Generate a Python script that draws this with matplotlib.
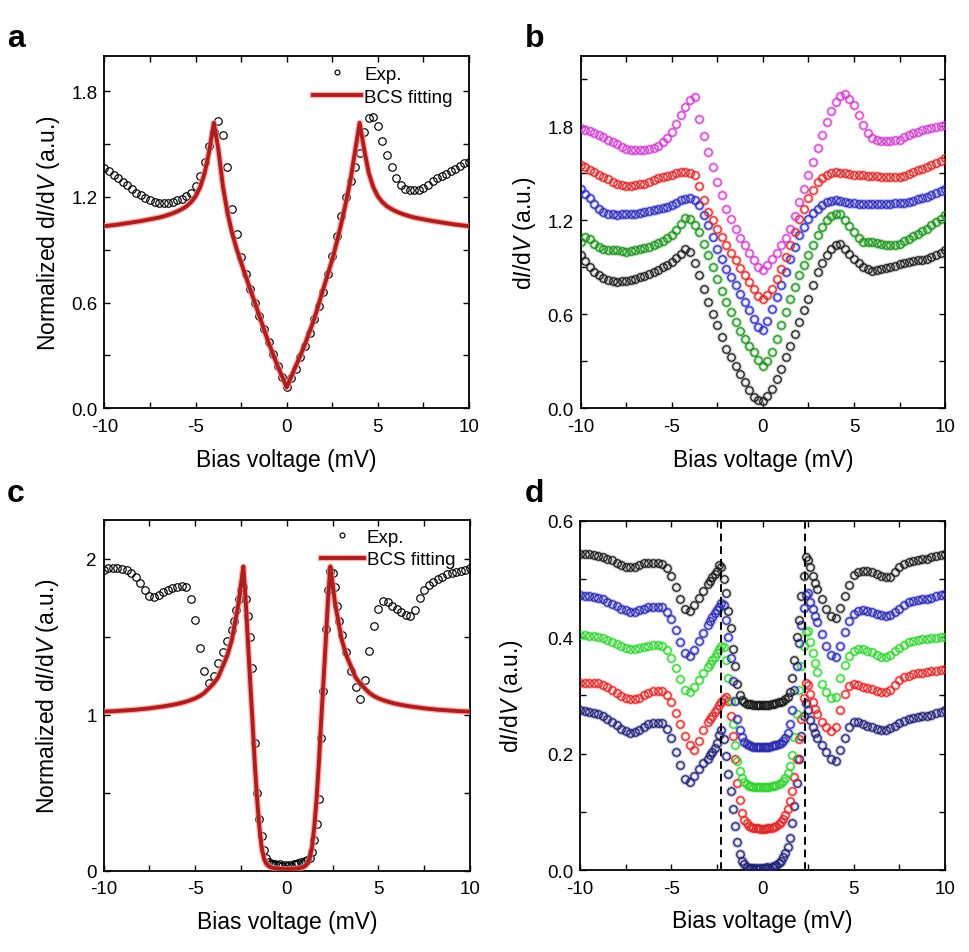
import numpy as np
import matplotlib
matplotlib.use("Agg")
import matplotlib.pyplot as plt
from matplotlib.ticker import MultipleLocator, FormatStrFormatter
import matplotlib.patheffects as pe

plt.rcParams['font.family'] = ['Liberation Sans', 'DejaVu Sans']
plt.rcParams['mathtext.fontset'] = 'custom'
plt.rcParams['mathtext.rm'] = 'Liberation Sans'
plt.rcParams['mathtext.it'] = 'Liberation Sans:italic'
plt.rcParams['axes.unicode_minus'] = False

# ---------------- bias grids (mV) ----------------
bias_ab = np.round(np.arange(-10, 10.001, 0.25), 4)          # 81 points
bias_cd = np.round(np.concatenate([np.arange(-10, -3, 0.25),
                                   np.arange(-3, 3.001, 0.125),
                                   np.arange(3.25, 10.001, 0.25)]), 4)  # 105 points

# ---------------- panel a ----------------
a_exp = [1.364, 1.345, 1.325, 1.305, 1.285, 1.265, 1.245, 1.225, 1.21, 1.195,
         1.18, 1.17, 1.165, 1.165, 1.165, 1.17, 1.18, 1.19, 1.205, 1.225,
         1.26, 1.32, 1.40, 1.49, 1.57, 1.63, 1.55, 1.37, 1.13, 0.99,
         0.86, 0.76, 0.675, 0.60, 0.525, 0.45, 0.375, 0.31, 0.24, 0.18,
         0.12,
         0.17, 0.225, 0.29, 0.355, 0.43, 0.505, 0.58, 0.66, 0.76, 0.865,
         0.98, 1.09, 1.20, 1.29, 1.37, 1.45, 1.57, 1.65, 1.655, 1.60,
         1.52, 1.44, 1.37, 1.31, 1.27, 1.245, 1.24, 1.24, 1.24, 1.25,
         1.27, 1.29, 1.305, 1.32, 1.33, 1.345, 1.36, 1.375, 1.39, 1.40]
a_fit = [1.034, 1.037, 1.04, 1.043, 1.047, 1.051, 1.055, 1.059, 1.063, 1.068,
         1.073, 1.078, 1.083, 1.09, 1.098, 1.107, 1.118, 1.131, 1.147, 1.17,
         1.203, 1.255, 1.336, 1.46, 1.62, 1.47, 1.26, 1.11, 0.996, 0.905,
         0.826, 0.75, 0.675, 0.60, 0.524, 0.449, 0.374, 0.307, 0.241, 0.18,
         0.119,
         0.18, 0.241, 0.30, 0.364, 0.434, 0.505, 0.59, 0.675, 0.76, 0.845,
         0.945, 1.053, 1.17, 1.298, 1.46, 1.62, 1.47, 1.336, 1.255, 1.203,
         1.17, 1.147, 1.131, 1.118, 1.107, 1.098, 1.09, 1.083, 1.078, 1.073,
         1.068, 1.063, 1.059, 1.055, 1.051, 1.047, 1.043, 1.04, 1.037, 1.034]

# ---------------- panel b ----------------
b_magenta = [1.79, 1.78, 1.768, 1.756, 1.745, 1.73, 1.715, 1.70, 1.685, 1.668,
             1.655, 1.65, 1.648, 1.648, 1.65, 1.655, 1.664, 1.678, 1.698, 1.728,
             1.766, 1.815, 1.873, 1.925, 1.969, 1.99, 1.85, 1.74, 1.638, 1.54,
             1.446, 1.36, 1.275, 1.21, 1.148, 1.09, 1.04, 0.99, 0.945, 0.905,
             0.885,
             0.915, 0.955, 0.995, 1.04, 1.09, 1.148, 1.23, 1.318, 1.40, 1.489,
             1.575, 1.66, 1.745, 1.83, 1.90, 1.958, 1.995, 2.005, 1.975, 1.937,
             1.87, 1.808, 1.76, 1.724, 1.712, 1.709, 1.709, 1.71, 1.712, 1.715,
             1.73, 1.745, 1.756, 1.766, 1.775, 1.783, 1.79, 1.798, 1.804, 1.81]
b_red = [1.553, 1.538, 1.523, 1.508, 1.493, 1.478, 1.462, 1.448, 1.435, 1.425,
         1.42, 1.42, 1.425, 1.43, 1.435, 1.446, 1.457, 1.468, 1.478, 1.486,
         1.493, 1.50, 1.506, 1.507, 1.504, 1.49, 1.42, 1.33, 1.254, 1.20,
         1.148, 1.094, 1.04, 0.99, 0.945, 0.897, 0.849, 0.806, 0.764, 0.72,
         0.695,
         0.725, 0.764, 0.825, 0.89, 0.965, 1.04, 1.125, 1.21, 1.275, 1.34,
         1.395, 1.446, 1.47, 1.489, 1.50, 1.506, 1.505, 1.50, 1.495, 1.492,
         1.49, 1.488, 1.486, 1.484, 1.482, 1.48, 1.478, 1.476, 1.476, 1.478,
         1.485, 1.495, 1.51, 1.52, 1.53, 1.542, 1.555, 1.568, 1.582, 1.596]
b_blue = [1.40, 1.37, 1.34, 1.305, 1.275, 1.255, 1.243, 1.238, 1.237, 1.238,
          1.24, 1.242, 1.243, 1.248, 1.254, 1.26, 1.265, 1.272, 1.28, 1.288,
          1.297, 1.313, 1.329, 1.338, 1.34, 1.33, 1.297, 1.235, 1.169, 1.095,
          1.02, 0.955, 0.89, 0.837, 0.785, 0.73, 0.678, 0.625, 0.571, 0.52,
          0.497,
          0.56, 0.635, 0.71, 0.785, 0.87, 0.955, 1.03, 1.105, 1.16, 1.21,
          1.245, 1.275, 1.298, 1.318, 1.326, 1.329, 1.325, 1.318, 1.312, 1.308,
          1.307, 1.306, 1.306, 1.306, 1.306, 1.306, 1.306, 1.307, 1.308, 1.31,
          1.314, 1.318, 1.326, 1.334, 1.342, 1.35, 1.362, 1.375, 1.389, 1.403]
b_green = [1.062, 1.094, 1.08, 1.05, 1.03, 1.02, 1.013, 1.01, 1.009, 1.004,
           1.0, 1.003, 1.009, 1.017, 1.025, 1.032, 1.04, 1.055, 1.07, 1.087,
           1.105, 1.14, 1.18, 1.218, 1.21, 1.17, 1.126, 1.05, 0.977, 0.90,
           0.828, 0.75, 0.678, 0.612, 0.55, 0.495, 0.444, 0.40, 0.358, 0.31,
           0.273,
           0.30, 0.358, 0.44, 0.529, 0.615, 0.70, 0.775, 0.849, 0.915, 0.977,
           1.04, 1.105, 1.155, 1.20, 1.228, 1.243, 1.24, 1.205, 1.165, 1.126,
           1.09, 1.062, 1.06, 1.062, 1.057, 1.05, 1.045, 1.04, 1.044, 1.05,
           1.066, 1.083, 1.1, 1.115, 1.132, 1.148, 1.168, 1.19, 1.212, 1.233]
b_black = [0.977, 0.94, 0.902, 0.872, 0.849, 0.83, 0.817, 0.81, 0.806, 0.81,
           0.816, 0.822, 0.828, 0.838, 0.848, 0.86, 0.87, 0.885, 0.90, 0.917,
           0.934, 0.96, 0.988, 1.015, 1.0, 0.93, 0.849, 0.76, 0.678, 0.605,
           0.529, 0.455, 0.38, 0.325, 0.273, 0.22, 0.166, 0.118, 0.075, 0.05,
           0.045,
           0.08, 0.124, 0.19, 0.252, 0.325, 0.40, 0.475, 0.55, 0.625, 0.70,
           0.79, 0.87, 0.93, 0.977, 1.015, 1.04, 1.05, 1.02, 0.985, 0.955,
           0.925, 0.902, 0.89, 0.88, 0.883, 0.89, 0.896, 0.902, 0.912, 0.923,
           0.93, 0.934, 0.939, 0.944, 0.95, 0.955, 0.966, 0.978, 0.993, 1.009]

# ---------------- panel c ----------------
c_exp = [1.93, 1.94, 1.94, 1.94, 1.935, 1.925, 1.91, 1.88, 1.845, 1.80,
         1.76, 1.755, 1.77, 1.785, 1.80, 1.81, 1.82, 1.825, 1.82, 1.74,
         1.61, 1.43, 1.28, 1.205, 1.25, 1.33, 1.40, 1.47,
         1.545, 1.60, 1.67, 1.74, 1.80, 1.82, 1.74, 1.63, 1.50, 1.30,
         0.82, 0.50, 0.33, 0.22, 0.13, 0.08, 0.055, 0.045, 0.04, 0.045,
         0.035, 0.04, 0.03, 0.035, 0.03, 0.035, 0.03, 0.04, 0.045, 0.05,
         0.055, 0.05, 0.06, 0.07, 0.08, 0.12, 0.20, 0.30, 0.46, 0.85,
         1.15, 1.55, 1.80, 1.92, 1.91, 1.82, 1.70, 1.60, 1.51,
         1.40, 1.28, 1.18, 1.10, 1.22, 1.41, 1.57, 1.68, 1.73, 1.725,
         1.70, 1.68, 1.66, 1.64, 1.63, 1.67, 1.75, 1.80, 1.83, 1.85,
         1.87, 1.885, 1.90, 1.91, 1.915, 1.92, 1.93, 1.94]
c_fit = [1.02, 1.021, 1.022, 1.024, 1.026, 1.028, 1.03, 1.032, 1.035, 1.038,
         1.041, 1.045, 1.049, 1.053, 1.058, 1.063, 1.069, 1.076, 1.084, 1.094,
         1.105, 1.12, 1.14, 1.17, 1.20, 1.24, 1.31, 1.38,
         1.48, 1.56, 1.64, 1.72, 1.84, 1.95, 1.74, 1.47, 1.21, 0.96,
         0.69, 0.46, 0.28, 0.15, 0.08, 0.045, 0.03, 0.022, 0.018, 0.015,
         0.013, 0.012, 0.011, 0.01, 0.01, 0.01, 0.011, 0.012, 0.013, 0.015,
         0.018, 0.022, 0.03, 0.045, 0.08, 0.15, 0.28, 0.46, 0.69, 0.96,
         1.21, 1.47, 1.74, 1.95, 1.84, 1.72, 1.64, 1.56, 1.48,
         1.38, 1.31, 1.24, 1.20, 1.17, 1.14, 1.12, 1.105, 1.094, 1.084,
         1.076, 1.069, 1.063, 1.058, 1.053, 1.049, 1.045, 1.041, 1.038, 1.035,
         1.032, 1.03, 1.028, 1.026, 1.024, 1.022, 1.021, 1.02]

# ---------------- panel d ----------------
d_black = [0.543, 0.543, 0.542, 0.541, 0.540, 0.538, 0.535, 0.532, 0.528, 0.524,
           0.521, 0.52, 0.521, 0.524, 0.527, 0.528, 0.528, 0.527, 0.525, 0.518,
           0.505, 0.486, 0.466, 0.448, 0.445, 0.455, 0.468, 0.48,
           0.491, 0.497, 0.503, 0.509, 0.514, 0.524, 0.52, 0.50, 0.475, 0.445,
           0.415, 0.38, 0.35, 0.32, 0.30, 0.292, 0.288, 0.286, 0.285, 0.285,
           0.284, 0.284, 0.283, 0.283, 0.283, 0.283, 0.284, 0.284, 0.285, 0.286,
           0.287, 0.288, 0.289, 0.291, 0.294, 0.297, 0.305, 0.33, 0.36, 0.40,
           0.43, 0.47, 0.505, 0.537, 0.532, 0.52, 0.505, 0.493, 0.483,
           0.465, 0.448, 0.436, 0.433, 0.45, 0.47, 0.49, 0.506, 0.512, 0.514,
           0.513, 0.512, 0.509, 0.505, 0.503, 0.504, 0.512, 0.52, 0.526, 0.529,
           0.531, 0.533, 0.534, 0.535, 0.537, 0.539, 0.541, 0.543]
d_blue = [0.472, 0.471, 0.47, 0.469, 0.468, 0.465, 0.461, 0.457, 0.453, 0.449,
          0.446, 0.444, 0.444, 0.446, 0.449, 0.451, 0.452, 0.452, 0.451, 0.444,
          0.431, 0.412, 0.391, 0.372, 0.367, 0.378, 0.393, 0.407,
          0.42, 0.427, 0.434, 0.441, 0.447, 0.452, 0.458, 0.455, 0.43, 0.40,
          0.365, 0.325, 0.29, 0.26, 0.24, 0.228, 0.22, 0.216, 0.214, 0.213,
          0.212, 0.212, 0.211, 0.211, 0.211, 0.211, 0.212, 0.212, 0.213, 0.214,
          0.215, 0.217, 0.219, 0.222, 0.227, 0.235, 0.25, 0.275, 0.31, 0.35,
          0.39, 0.42, 0.45, 0.472, 0.475, 0.46, 0.448, 0.437, 0.426,
          0.405, 0.385, 0.37, 0.366, 0.385, 0.408, 0.427, 0.44, 0.445, 0.446,
          0.445, 0.443, 0.44, 0.438, 0.437, 0.438, 0.443, 0.449, 0.455, 0.46,
          0.462, 0.464, 0.465, 0.466, 0.468, 0.47, 0.472, 0.474]
d_green = [0.403, 0.403, 0.402, 0.402, 0.401, 0.398, 0.395, 0.391, 0.388, 0.384,
           0.381, 0.379, 0.379, 0.381, 0.383, 0.385, 0.386, 0.386, 0.385, 0.378,
           0.365, 0.347, 0.328, 0.309, 0.305, 0.315, 0.327, 0.338,
           0.348, 0.354, 0.36, 0.366, 0.373, 0.379, 0.385, 0.383, 0.36, 0.33,
           0.29, 0.25, 0.215, 0.188, 0.17, 0.158, 0.151, 0.147, 0.145, 0.144,
           0.143, 0.143, 0.142, 0.142, 0.142, 0.142, 0.143, 0.143, 0.144, 0.145,
           0.146, 0.148, 0.15, 0.153, 0.158, 0.166, 0.178, 0.198, 0.228, 0.268,
           0.31, 0.35, 0.385, 0.408, 0.41, 0.392, 0.372, 0.355, 0.34,
           0.32, 0.305, 0.295, 0.297, 0.33, 0.352, 0.368, 0.377, 0.38, 0.38,
           0.377, 0.374, 0.37, 0.366, 0.366, 0.37, 0.376, 0.382, 0.387, 0.391,
           0.393, 0.395, 0.396, 0.397, 0.398, 0.399, 0.40, 0.401]
d_red = [0.322, 0.322, 0.322, 0.321, 0.321, 0.318, 0.314, 0.309, 0.304, 0.299,
         0.295, 0.293, 0.293, 0.296, 0.3, 0.304, 0.307, 0.308, 0.307, 0.3,
         0.288, 0.27, 0.25, 0.23, 0.215, 0.207, 0.222, 0.24,
         0.254, 0.26, 0.265, 0.271, 0.277, 0.283, 0.289, 0.294, 0.297, 0.29,
         0.265, 0.23, 0.19, 0.15, 0.12, 0.098, 0.086, 0.08, 0.076, 0.074,
         0.073, 0.072, 0.072, 0.071, 0.071, 0.071, 0.072, 0.072, 0.073, 0.074,
         0.076, 0.079, 0.083, 0.088, 0.095, 0.105, 0.118, 0.135, 0.16, 0.19,
         0.225, 0.26, 0.295, 0.322, 0.318, 0.302, 0.288, 0.277, 0.268,
         0.255, 0.245, 0.239, 0.245, 0.275, 0.302, 0.316, 0.32, 0.318, 0.315,
         0.313, 0.311, 0.308, 0.306, 0.306, 0.31, 0.318, 0.326, 0.331, 0.334,
         0.336, 0.338, 0.339, 0.34, 0.341, 0.342, 0.344, 0.346]
d_navy = [0.274, 0.273, 0.271, 0.27, 0.268, 0.264, 0.259, 0.254, 0.249, 0.243,
          0.239, 0.236, 0.237, 0.241, 0.246, 0.25, 0.252, 0.253, 0.252, 0.243,
          0.226, 0.203, 0.18, 0.157, 0.152, 0.162, 0.174, 0.183,
          0.191, 0.197, 0.203, 0.21, 0.219, 0.232, 0.24, 0.225, 0.195, 0.165,
          0.135, 0.105, 0.075, 0.048, 0.028, 0.016, 0.01, 0.006, 0.004, 0.003,
          0.004, 0.003, 0.002, 0.004, 0.003, 0.004, 0.005, 0.004, 0.006, 0.007,
          0.009, 0.012, 0.016, 0.022, 0.03, 0.04, 0.055, 0.08, 0.11, 0.15,
          0.19, 0.23, 0.265, 0.287, 0.275, 0.258, 0.245, 0.235, 0.226,
          0.214, 0.203, 0.19, 0.188, 0.207, 0.226, 0.245, 0.255, 0.254, 0.251,
          0.248, 0.245, 0.242, 0.24, 0.241, 0.244, 0.248, 0.252, 0.256, 0.259,
          0.261, 0.263, 0.264, 0.265, 0.267, 0.269, 0.271, 0.274]
d_gap_lines = [-2.3, 2.35]

# ---------------- styling ----------------
TICK_FS = 13.5
LABEL_FS = 16.5
MS = 5.4
MEW = 0.85
FIT_COLOR = '#ad1f1f'
FIT_GLOW = '#ff8c8c'

fig = plt.figure(figsize=(9.69, 9.53), dpi=100)
ax_a = fig.add_axes([0.1078, 0.5705, 0.3762, 0.3697])
ax_b = fig.add_axes([0.5993, 0.5705, 0.3760, 0.3697])
ax_c = fig.add_axes([0.1070, 0.0853, 0.3780, 0.3683])
ax_d = fig.add_axes([0.5986, 0.0860, 0.3767, 0.3666])


def style_axis(ax, ymax, ymaj, ymin, yfmt):
    ax.set_xlim(-10, 10)
    ax.set_ylim(0, ymax)
    ax.xaxis.set_major_locator(MultipleLocator(5))
    ax.xaxis.set_minor_locator(MultipleLocator(2.5))
    ax.yaxis.set_major_locator(MultipleLocator(ymaj))
    ax.yaxis.set_minor_locator(MultipleLocator(ymin))
    ax.yaxis.set_major_formatter(FormatStrFormatter(yfmt))
    ax.tick_params(which='both', direction='in', top=True, right=True,
                   width=1.0, labelsize=TICK_FS)
    ax.tick_params(which='major', length=4.5)
    ax.tick_params(which='minor', length=4.0)
    ax.tick_params(axis='x', pad=7)
    ax.tick_params(axis='y', pad=5)
    for s in ax.spines.values():
        s.set_linewidth(1.3)
    ax.set_xlabel('Bias voltage (mV)', fontsize=LABEL_FS, labelpad=9)


def glow_markers(ax, x, y, col, glow_col):
    ax.plot(x, y, 'o', ms=MS, mfc='none', mec=glow_col, mew=2.6, alpha=0.45, zorder=2)
    ax.plot(x, y, 'o', ms=MS, mfc='none', mec=col, mew=MEW, zorder=3)


fit_effects = [pe.Stroke(linewidth=4.6, foreground=FIT_GLOW, alpha=0.7), pe.Normal()]
leg_kw = dict(loc='upper right', frameon=False, fontsize=13.5, numpoints=1,
              handletextpad=0.15, borderpad=0, borderaxespad=0,
              labelspacing=0.3, markerscale=0.65)

# ---- panel a ----
ax_a.plot(bias_ab, a_exp, 'o', ms=MS, mfc='none', mec='black', mew=MEW, label='Exp.', zorder=2)
ax_a.plot(bias_ab, a_fit, '-', color=FIT_COLOR, lw=2.8, label='BCS fitting',
          path_effects=fit_effects, zorder=3)
style_axis(ax_a, 2.0, 0.6, 0.3, '%.1f')
ax_a.set_ylabel(r'Normalized d$\it{I}$/d$\it{V}$ (a.u.)', fontsize=LABEL_FS, labelpad=7)
ax_a.legend(bbox_to_anchor=(0.955, 0.972), handlelength=2.55, **leg_kw)

# ---- panel b ----
b_series = [(b_black, '#151515', '#9a9a9a'),
            (b_green, '#1f8a1f', '#70cc70'),
            (b_blue, '#2a2ab0', '#8080f0'),
            (b_red, '#d02828', '#ff8a8a'),
            (b_magenta, '#c83cc8', '#f59af5')]
for vals, col, gl in b_series:
    glow_markers(ax_b, bias_ab, vals, col, gl)
style_axis(ax_b, 2.25, 0.6, 0.3, '%.1f')
ax_b.set_ylabel(r'd$\it{I}$/d$\it{V}$ (a.u.)', fontsize=LABEL_FS, labelpad=7)

# ---- panel c ----
ax_c.plot(bias_cd, c_exp, 'o', ms=MS, mfc='none', mec='black', mew=MEW, label='Exp.', zorder=2)
ax_c.plot(bias_cd, c_fit, '-', color=FIT_COLOR, lw=2.8, label='BCS fitting',
          path_effects=fit_effects, zorder=3)
style_axis(ax_c, 2.25, 1, 0.5, '%d')
ax_c.set_ylabel(r'Normalized d$\it{I}$/d$\it{V}$ (a.u.)', fontsize=LABEL_FS, labelpad=18)
ax_c.legend(bbox_to_anchor=(0.96, 0.975), handlelength=2.3, **leg_kw)

# ---- panel d ----
d_series = [(d_navy, '#1c1c6e', '#8080c0'),
            (d_red, '#d82424', '#ff9090'),
            (d_green, '#30d030', '#9af09a'),
            (d_blue, '#2626a8', '#8585e5'),
            (d_black, '#151515', '#9a9a9a')]
for vals, col, gl in d_series:
    glow_markers(ax_d, bias_cd, vals, col, gl)
for xv in d_gap_lines:
    ax_d.axvline(xv, color='black', lw=1.4, ls=(0, (4, 2.5)), zorder=4)
style_axis(ax_d, 0.6, 0.2, 0.1, '%.1f')
ax_d.set_ylabel(r'd$\it{I}$/d$\it{V}$ (a.u.)', fontsize=LABEL_FS, labelpad=16)

# ---- panel letters ----
for lab, x, y in [('a', 0.007, 0.951), ('b', 0.542, 0.951),
                  ('c', 0.007, 0.4735), ('d', 0.542, 0.4735)]:
    fig.text(x, y, lab, fontsize=23, fontweight='bold', va='baseline', ha='left')

fig.savefig('out.png', dpi=100)
